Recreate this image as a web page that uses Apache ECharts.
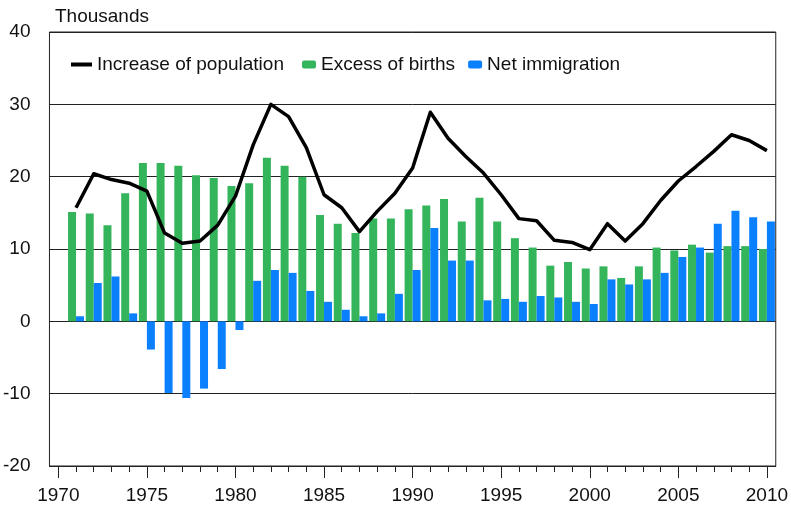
<!DOCTYPE html>
<html>
<head>
<meta charset="utf-8">
<script src="https://cdn.jsdelivr.net/npm/echarts@6/dist/echarts.min.js"></script>
<style>
  * { margin: 0; padding: 0; }
  body { background: #fff; }
</style>
</head>
<body>
<div id="main" style="width:791px;height:509px;"></div>
<script>
// 年份 (1970 only as an axis start)
var years = [1971, 1972, 1973, 1974, 1975, 1976, 1977, 1978, 1979, 1980,
             1981, 1982, 1983, 1984, 1985, 1986, 1987, 1988, 1989, 1990,
             1991, 1992, 1993, 1994, 1995, 1996, 1997, 1998, 1999, 2000,
             2001, 2002, 2003, 2004, 2005, 2006, 2007, 2008, 2009, 2010];
var increase = [15.7, 20.4, 19.6, 19.1, 18.0, 12.2, 10.8, 11.1, 13.3, 17.3,
                24.4, 30.0, 28.3, 24.0, 17.5, 15.7, 12.4, 15.2, 17.7, 21.2,
                28.9, 25.3, 22.8, 20.5, 17.5, 14.2, 13.9, 11.2, 10.9, 9.9,
                13.5, 11.1, 13.5, 16.7, 19.4, 21.4, 23.5, 25.8, 25.0, 23.6];
var births = [15.1, 14.9, 13.3, 17.7, 21.9, 21.9, 21.5, 20.2, 19.8, 18.7,
              19.1, 22.6, 21.5, 20.0, 14.7, 13.5, 12.2, 14.2, 14.2, 15.5,
              16.0, 16.9, 13.8, 17.1, 13.8, 11.5, 10.2, 7.7, 8.2, 7.3,
              7.6, 6.0, 7.6, 10.2, 9.8, 10.6, 9.5, 10.4, 10.4, 10.0];
var immigration = [0.7, 5.3, 6.2, 1.1, -3.9, -9.9, -10.6, -9.3, -6.6, -1.2,
                   5.6, 7.1, 6.7, 4.2, 2.7, 1.6, 0.7, 1.1, 3.8, 7.1,
                   12.9, 8.4, 8.4, 2.9, 3.1, 2.7, 3.5, 3.3, 2.7, 2.4,
                   5.8, 5.1, 5.8, 6.7, 8.9, 10.2, 13.5, 15.3, 14.4, 13.8];
var yearLabels = [1970, 1975, 1980, 1985, 1990, 1995, 2000, 2005, 2010];

var allYears = [1970].concat(years);
var categories = allYears.map(String);
function pairs(vals) {
  return years.map(function (y, i) { return [String(y), vals[i]]; });
}

var font = 'Liberation Sans, Arial, sans-serif';
var myChart = echarts.init(document.getElementById('main'));
myChart.setOption({
  animation: false,
  textStyle: { fontFamily: font, color: '#111' },
  title: {
    text: 'Thousands',
    left: 50, top: 2,
    textStyle: { fontSize: 19, fontWeight: 'normal', color: '#111', fontFamily: font }
  },
  legend: [
    {
      data: [{ name: 'Increase of population', icon: 'rect' }],
      left: 71, top: 55, padding: 0,
      itemWidth: 21, itemHeight: 4,
      itemStyle: { color: '#000' },
      textStyle: { fontSize: 19, color: '#111', fontFamily: font }
    },
    {
      data: ['Excess of births', 'Net immigration'],
      left: 302, top: 55, padding: 0,
      itemWidth: 14, itemHeight: 8, itemGap: 13,
      textStyle: { fontSize: 19, color: '#111', fontFamily: font }
    }
  ],
  grid: {
    left: 47, right: 12, top: 32, bottom: 43,
    show: true, borderColor: '#222', borderWidth: 1,
    containLabel: false
  },
  xAxis: [
    {
      // 柱子用的类目轴
      type: 'category',
      data: categories,
      position: 'bottom',
      boundaryGap: true,
      axisLine: { show: false, onZero: false },
      axisTick: { show: false },
      axisLabel: { show: false }
    },
    {
      // 小刻度
      type: 'value',
      position: 'bottom',
      min: allYears[0] - 0.5, max: allYears[allYears.length - 1] + 0.5,
      axisLine: { show: true, onZero: false, lineStyle: { color: '#222' } },
      axisTick: { show: true, customValues: allYears, length: 6, lineStyle: { color: '#222' } },
      axisLabel: { show: false },
      splitLine: { show: false }
    },
    {
      // 大刻度 + 年份
      type: 'value',
      position: 'bottom',
      min: allYears[0] - 0.5, max: allYears[allYears.length - 1] + 0.5,
      axisLine: { show: false, onZero: false },
      axisTick: { show: true, customValues: yearLabels, length: 12, lineStyle: { color: '#222' } },
      axisLabel: {
        customValues: yearLabels, margin: 20, fontSize: 19, color: '#111', fontFamily: font,
        formatter: function (v) { return String(v); }
      },
      splitLine: { show: false }
    }
  ],
  yAxis: {
    type: 'value',
    min: -20, max: 40, interval: 10,
    axisLine: { show: false },
    axisTick: { show: false },
    axisLabel: { margin: 19, fontSize: 19, color: '#111', fontFamily: font },
    splitLine: { lineStyle: { color: '#222', width: 1 } }
  },
  series: [
    {
      name: 'Excess of births',
      type: 'bar',
      barWidth: 8,
      barGap: '0%',
      itemStyle: { color: '#35b55b' },
      data: pairs(births)
    },
    {
      name: 'Net immigration',
      type: 'bar',
      barWidth: 8,
      barGap: '0%',
      itemStyle: { color: '#0a80ff' },
      data: pairs(immigration)
    },
    {
      name: 'Increase of population',
      type: 'line',
      symbol: 'none',
      lineStyle: { color: '#000', width: 3.5, join: 'round' },
      itemStyle: { color: '#000' },
      z: 5,
      data: pairs(increase)
    }
  ]
});
</script>
</body>
</html>
